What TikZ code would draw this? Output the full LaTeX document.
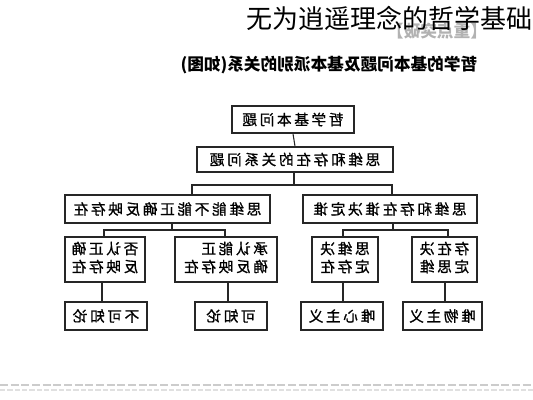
\documentclass[tikz,border=0pt]{standalone}
\usepackage{fontspec}
\usepackage{graphicx}
\newfontfamily\cjkbox[LetterSpace=18, FakeBold=1]{Noto Sans CJK SC}
\newfontfamily\cjkplain{Noto Sans CJK SC}
\newcommand\mir[1]{\reflectbox{#1}}
\begin{document}
\begin{tikzpicture}[x=0.75pt,y=-0.75pt,
  box/.style={draw=black!85, line width=1.1pt, fill=white, inner sep=0pt,
    font=\cjkbox\fontsize{11}{13.5}\selectfont, align=center},
  wh/.style 2 args={minimum width=0.75*#1, minimum height=0.75*#2},
  link/.style={draw=black!85, line width=0.8pt}]
\useasboundingbox (0,0) rectangle (533,400);
% overlay labels
\node[text=black!30, font=\cjkplain\bfseries\fontsize{12.5}{14}\selectfont, inner sep=0pt] (tag) at (437,31) {\mir{【重点突破】}};
\node[anchor=east, font=\cjkplain\fontsize{19.5}{22}\selectfont, inner sep=0pt] (title) at (533,18) {无为逍遥理念的哲学基础};
\node[font=\cjkplain\bfseries\fontsize{12.5}{15}\selectfont, inner sep=0pt] (head) at (329,65) {\mir{哲学的基本问题及基本派别的关系(如图)}};
% boxes
\node[box, wh={122}{27}] (top) at (293,119.5) {\mir{哲学基本问题}};
\node[box, wh={196}{25}] (b2) at (295,159.5) {\mir{思维和存在的关系问题}};
\node[box, wh={205}{28}] (L) at (167.5,209) {\mir{思维能不能正确反映存在}};
\node[box, wh={174}{28}] (R) at (390,209) {\mir{思维和存在谁决定谁}};
\node[box, wh={80}{45}] (a3) at (105,259.5) {\mir{\begin{tabular}{@{}l@{}}否认正确\\反映存在\end{tabular}}};
\node[box, wh={102}{45}] (b3) at (226,259.5) {\mir{\begin{tabular}{@{}l@{}}承认能正\\确反映存在\end{tabular}}};
\node[box, wh={66}{45}] (c3) at (345,259.5) {\mir{\begin{tabular}{@{}l@{}}思维决\\定存在\end{tabular}}};
\node[box, wh={65}{45}] (d3) at (444.5,259.5) {\mir{\begin{tabular}{@{}l@{}}存在决\\定思维\end{tabular}}};
\node[box, wh={82}{28}] (a4) at (106,316) {\mir{不可知论}};
\node[box, wh={72}{28}] (b4) at (231,316) {\mir{可知论}};
\node[box, wh={82}{28}] (c4) at (342,316) {\mir{唯心主义}};
\node[box, wh={79}{28}] (d4) at (442.5,316) {\mir{唯物主义}};
% fork coordinates
\coordinate (f0) at (294,185);
\coordinate (fl) at (192,185);
\coordinate (fr) at (392,185);
\coordinate (gl) at (172,230);
\coordinate (gla) at (104,230);
\coordinate (glb) at (225,230);
\coordinate (gr) at (393,230);
\coordinate (grc) at (343,230);
\coordinate (grd) at (448,230);
% connectors
\draw[link] (top.south) -- (b2.north);
\draw[link] (b2.south -| f0) -- (f0);
\draw[link] (L.north -| fl) -- (fl) -- (fr) -- (R.north -| fr);
\draw[link] (L.south -| gl) -- (gl);
\draw[link] (a3.north -| gla) -- (gla) -- (glb) -- (b3.north -| glb);
\draw[link] (R.south -| gr) -- (gr);
\draw[link] (c3.north -| grc) -- (grc) -- (grd) -- (d3.north -| grd);
\coordinate (va) at (102,290);
\coordinate (vb) at (228,290);
\coordinate (vc) at (343,290);
\coordinate (vd) at (445,290);
\draw[link] (a3.south -| va) -- (a4.north -| va);
\draw[link] (b3.south -| vb) -- (b4.north -| vb);
\draw[link] (c3.south -| vc) -- (c4.north -| vc);
\draw[link] (d3.south -| vd) -- (d4.north -| vd);
% bottom dashed rule
\coordinate (ra) at (0,385);
\coordinate (rb) at (533,385);
\draw[black!20, line width=0.8pt, dash pattern=on 6pt off 2pt] (ra) -- (rb);
\coordinate (sa) at (0,390);
\coordinate (sb) at (533,390);
\draw[black!12, line width=1pt, dash pattern=on 4pt off 1.5pt] (sa) -- (sb);
\end{tikzpicture}
\end{document}
